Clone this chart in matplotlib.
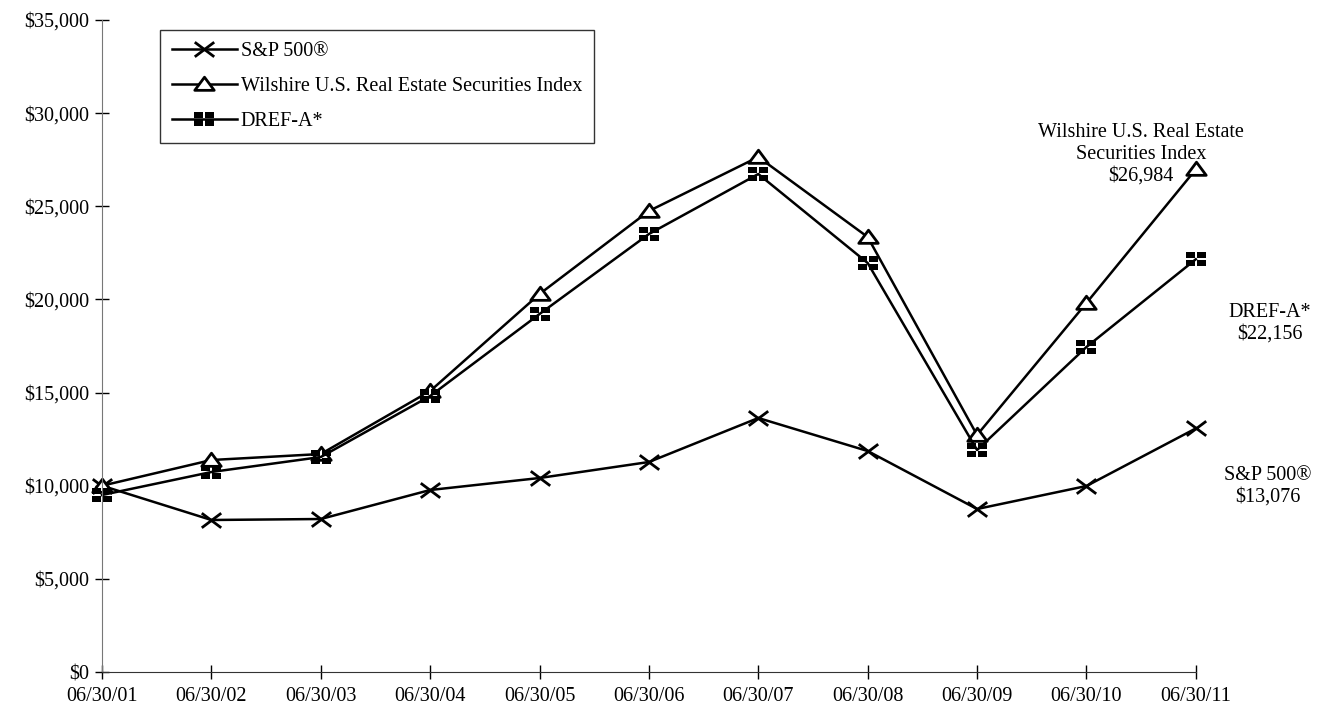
import numpy as np
import matplotlib
matplotlib.use("Agg")
from matplotlib import pyplot as plt
from matplotlib.path import Path
from matplotlib.ticker import FuncFormatter

dates = ["06/30/01", "06/30/02", "06/30/03", "06/30/04", "06/30/05", "06/30/06",
         "06/30/07", "06/30/08", "06/30/09", "06/30/10", "06/30/11"]
sp500 = [10000, 8160, 8213, 9770, 10414, 11273, 13635, 11863, 8750, 9985, 13076]
wilshire = [10000, 11380, 11702, 15084, 20291, 24747, 27646, 23351, 12722, 19808, 26984]
dref = [9501, 10736, 11541, 14816, 19217, 23512, 26733, 21955, 11917, 17446, 22156]

plt.rcParams['font.family'] = ['Liberation Serif', 'DejaVu Serif']
FS = 14.5

# markers are a little wider than tall
def quad_square():
    verts, codes = [], []
    g = 0.12
    for (x0, x1) in [(-1, -g), (g, 1)]:
        for (y0, y1) in [(-0.7, -g), (g, 0.7)]:
            verts += [(x0, y0), (x1, y0), (x1, y1), (x0, y1), (x0, y0)]
            codes += [Path.MOVETO, Path.LINETO, Path.LINETO, Path.LINETO, Path.CLOSEPOLY]
    return Path(verts, codes)

tri = Path([(-1, -0.6), (1, -0.6), (0, 0.75), (-1, -0.6)],
           [Path.MOVETO, Path.LINETO, Path.LINETO, Path.CLOSEPOLY])
cross = Path([(-1, -0.75), (1, 0.75), (-1, 0.75), (1, -0.75)],
             [Path.MOVETO, Path.LINETO, Path.MOVETO, Path.LINETO])

fig = plt.figure(figsize=(13.25, 7.07), dpi=100)
ax = fig.add_axes([0.077, 0.0495, 0.8255, 0.9222])

x = np.arange(len(dates))
ax.plot(x, sp500, color='black', lw=1.8, marker=cross, ms=14, mew=2,
        mfc='none', label='S&P 500®', clip_on=False)
ax.plot(x, wilshire, color='black', lw=1.8, marker=tri, ms=14, mew=2,
        mfc='white', label='Wilshire U.S. Real Estate Securities Index', clip_on=False)
ax.plot(x, dref, color='black', lw=1.8, marker=quad_square(), ms=15, mew=0,
        mfc='black', label='DREF-A*', clip_on=False)

ax.set_xlim(0, 10)
ax.set_ylim(0, 35000)
ax.set_xticks(x)
ax.set_xticklabels(dates)
ax.set_yticks(np.arange(0, 35001, 5000))
ax.yaxis.set_major_formatter(FuncFormatter(lambda v, p: "${:,.0f}".format(v)))
ax.tick_params(axis='both', labelsize=FS, direction='inout', length=10, width=1)
ax.tick_params(axis='x', pad=6)
ax.tick_params(axis='y', pad=4)
for s in ['top', 'right']:
    ax.spines[s].set_visible(False)
ax.spines['left'].set_color('#777777')
ax.spines['bottom'].set_color('#333333')

leg = ax.legend(loc='upper left', bbox_to_anchor=(0.053, 0.985), fontsize=FS,
                frameon=True, fancybox=False, edgecolor='black', handlelength=3.2,
                labelspacing=0.8, borderpad=0.6, handletextpad=0.2, borderaxespad=0)
leg.get_frame().set_linewidth(1)

ax.annotate("Wilshire U.S. Real Estate\nSecurities Index\n$26,984", xy=(9.5, 27800),
            ha='center', va='center', fontsize=FS, annotation_clip=False)
ax.annotate("DREF-A*\n$22,156", xy=(10.68, 18734), ha='center', va='center',
            fontsize=FS, annotation_clip=False)
ax.annotate("S&P 500®\n$13,076", xy=(10.66, 9985), ha='center', va='center',
            fontsize=FS, annotation_clip=False)

fig.savefig("out.png", dpi=100)
